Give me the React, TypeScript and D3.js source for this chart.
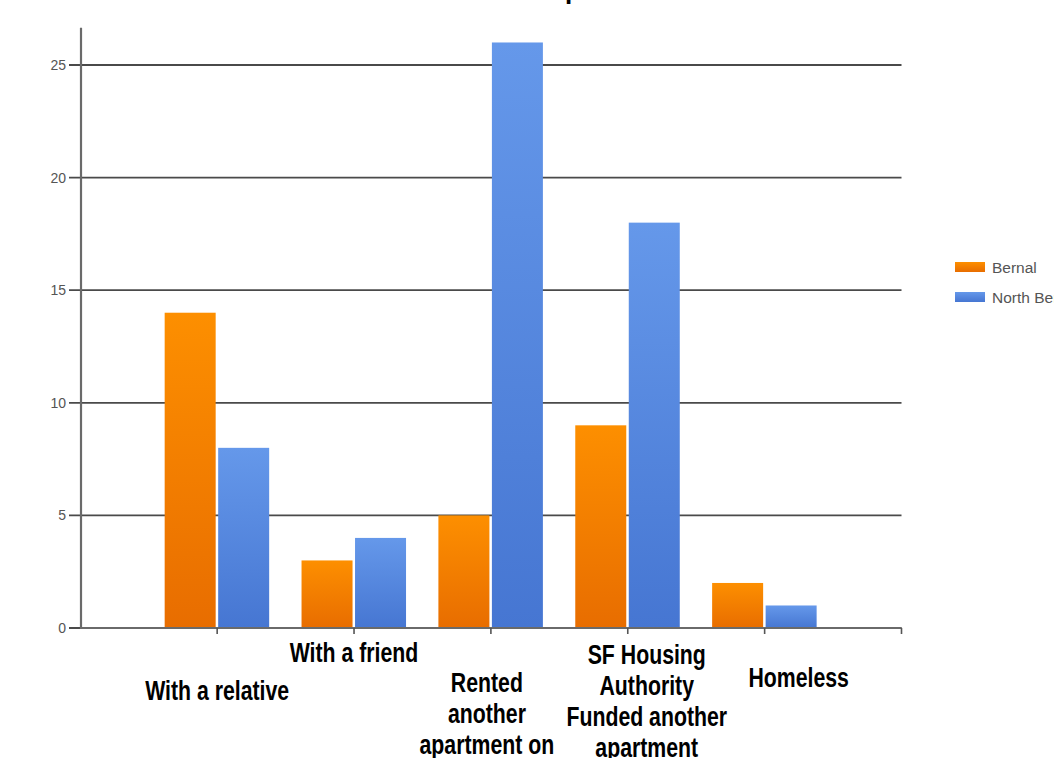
import React from "react";
import * as d3 from "d3";

const categories: string[][] = [
  ["With a relative"],
  ["With a friend"],
  ["Rented", "another", "apartment on"],
  ["SF Housing", "Authority", "Funded another", "apartment"],
  ["Homeless"],
];
const labelFirstLineY = [700, 662, 692, 664, 687];
const labelShiftX = [0, 0, -4, 19, 34];
const bernal = [14, 3, 5, 9, 2];
const northBernal = [8, 4, 26, 18, 1];
const yTicks = [0, 5, 10, 15, 20, 25];
const seriesNames = ["Bernal", "North Bernal"];

const W = 1054;
const H = 758;

export default function App() {
  const x = d3.scaleLinear().domain([0, 6]).range([80.3, 901.5]);
  const y = d3.scaleLinear().domain([0, 25]).range([628, 65]);
  const x0 = 81;
  const yTop = y(26.65);
  const barW = 51;

  return (
    <svg
      width={W}
      height={H}
      style={{ position: "absolute", left: 0, top: 0, background: "#fff" }}
      fontFamily="'Liberation Sans', Arial, sans-serif"
    >
      <defs>
        <linearGradient id="gOrange" x1="0" y1="0" x2="0" y2="1">
          <stop offset="0" stopColor="#fd8f00" />
          <stop offset="1" stopColor="#e86d00" />
        </linearGradient>
        <linearGradient id="gBlue" x1="0" y1="0" x2="0" y2="1">
          <stop offset="0" stopColor="#6598ea" />
          <stop offset="1" stopColor="#4676d2" />
        </linearGradient>
      </defs>

      {/* cropped title: only a descender is visible */}
      <text x={573} y={-1} fontSize={26} fontWeight="bold" textAnchor="middle" fill="#000">p</text>

      {/* gridlines */}
      {yTicks.map((t) => (
        <g key={t}>
          <line x1={x0 - 12} x2={x(6)} y1={y(t)} y2={y(t)} stroke="#4a4a4a" strokeWidth={1.8} />
          <text x={x0 - 15} y={y(t) + 5} fontSize={14} fill="#555" textAnchor="end">
            {t}
          </text>
        </g>
      ))}

      {/* bars */}
      {categories.map((c, i) => {
        const cx = x(i + 1);
        return (
          <g key={i}>
            <rect x={cx - barW - 1.5} y={y(bernal[i])} width={barW} height={y(0) - y(bernal[i])} fill="url(#gOrange)" />
            <rect x={cx + 1} y={y(northBernal[i])} width={barW} height={y(0) - y(northBernal[i])} fill="url(#gBlue)" />
          </g>
        );
      })}

      {/* axes */}
      <line x1={x0} x2={x0} y1={yTop} y2={y(0) + 1} stroke="#6a6a6a" strokeWidth={2.2} />
      <line x1={x0} x2={x(6)} y1={y(0)} y2={y(0)} stroke="#6a6a6a" strokeWidth={2} />
      {[1, 2, 3, 4, 5, 6].map((k) => (
        <line key={k} x1={x(k)} x2={x(k)} y1={y(0)} y2={y(0) + 6} stroke="#555" strokeWidth={1.6} />
      ))}

      {/* category labels */}
      {categories.map((lines, i) => (
        <g key={i} transform={`translate(${x(i + 1) + labelShiftX[i]}, ${labelFirstLineY[i]}) scale(0.76, 1)`}>
          <text fontWeight="bold" fontSize={28} textAnchor="middle" fill="#000">
            {lines.map((l, j) => (
              <tspan key={j} x={0} dy={j === 0 ? 0 : 31}>
                {l}
              </tspan>
            ))}
          </text>
        </g>
      ))}

      {/* legend */}
      {seriesNames.map((s, i) => (
        <g key={s} transform={`translate(955, ${262 + i * 30})`}>
          <rect x={0} y={0} width={30} height={10} fill={i === 0 ? "url(#gOrange)" : "url(#gBlue)"} />
          <text x={37} y={11} fontSize={15.5} fill="#555">
            {s}
          </text>
        </g>
      ))}
    </svg>
  );
}
